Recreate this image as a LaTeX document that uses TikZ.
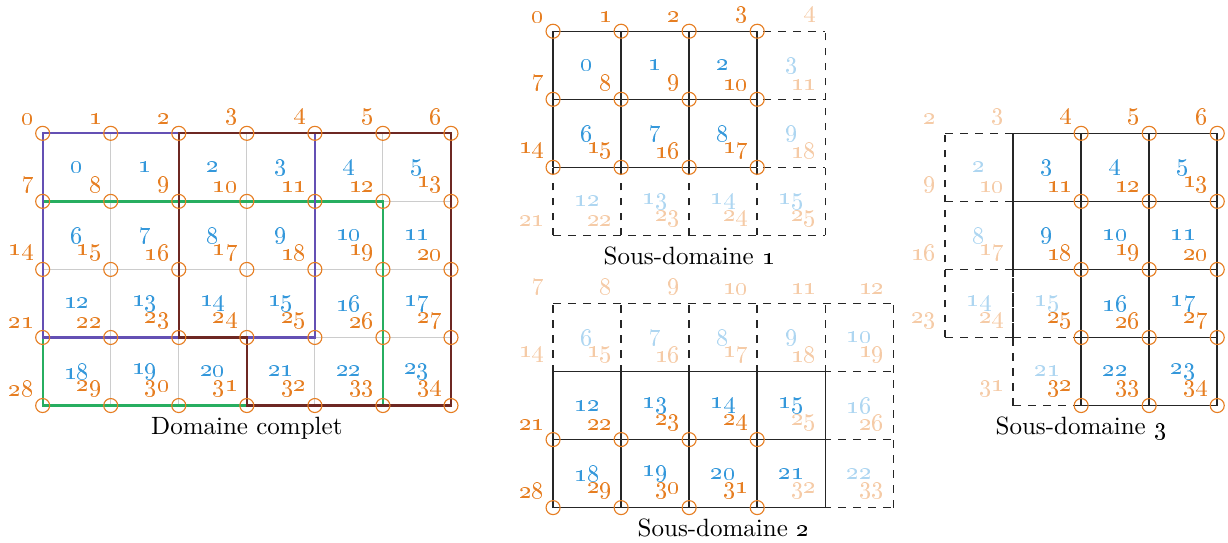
\documentclass[tikz,border=0pt]{standalone}
\usepackage{xcolor}
\usepackage{tikz}

\begin{document}
\begin{tikzpicture}[x=27.22pt,y=27.22pt,
  vnum/.style={font=\color{dorange},above left},
  vfade/.style={font=\color{dorange!40},above left},
  cnum/.style={font=\color{dblue}},
  cfade/.style={font=\color{dblue!40}},
  vring/.style={dorange,line width=0.45pt},
  meshline/.style={black!85,line width=0.6pt,step=1},
  ghostline/.style={black!85,line width=0.6pt,dashed,step=1},
  sdline/.style={line width=0.9pt}]
  \definecolor{dorange}{RGB}{230,126,34}
  \definecolor{dblue}{RGB}{52,152,219}
  \definecolor{sdgreen}{RGB}{39,174,96}
  \definecolor{sdpurple}{RGB}{100,80,180}
  \definecolor{sdbrown}{RGB}{110,40,35}
  \useasboundingbox (-0.627,1.959) rectangle (17.418,-6.02);
  % domaine complet
  \draw[black!20,line width=0.45pt,step=1] (0,0) grid (6,-4);
  \draw[sdline,sdgreen] (0,-1) rectangle (5,-4);
  \draw[sdline,sdpurple] (0,0) rectangle (4,-3);
  \draw[sdline,sdbrown] (2,0) -- (6,0) -- (6,-4) -- (3,-4) -- (3,-3) -- (2,-3) -- cycle;
  \foreach \j in {0,...,4}
    \foreach \i in {0,...,6} {
      \pgfmathtruncatemacro{\v}{7*\j+\i}
      \draw[vring] (\i,-\j) circle (2.8pt);
      \node[vnum] (d-v\v) at (\i,-\j) {\oldstylenums{\v}};
    }
  \foreach \j in {0,...,3}
    \foreach \i in {0,...,5} {
      \pgfmathtruncatemacro{\c}{6*\j+\i}
      \node[cnum] (d-c\c) at (\i+0.5,-\j-0.5) {\oldstylenums{\c}};
    }
  \node[below,yshift=-1pt] (d-cap) at (3,-4) {Domaine complet};
  % sous-domaine 1
  \begin{scope}[shift={(7.5,1.5)}]
    \draw[ghostline] (0,0) grid (4,-3);
    \draw[meshline] (0,0) grid (3,-2);
    \foreach \j in {0,1,2}
      \foreach \i in {0,...,3} {
        \pgfmathtruncatemacro{\v}{7*\j+\i}
        \draw[vring] (\i,-\j) circle (2.8pt);
        \node[vnum] (s1-v\v) at (\i,-\j) {\oldstylenums{\v}};
      }
    \foreach \i/\j in {4/0,4/1,4/2,0/3,1/3,2/3,3/3,4/3} {
      \pgfmathtruncatemacro{\v}{7*\j+\i}
      \node[vfade] (s1-v\v) at (\i,-\j) {\oldstylenums{\v}};
    }
    \foreach \j in {0,1}
      \foreach \i in {0,1,2} {
        \pgfmathtruncatemacro{\c}{6*\j+\i}
        \node[cnum] (s1-c\c) at (\i+0.5,-\j-0.5) {\oldstylenums{\c}};
      }
    \foreach \i/\j in {3/0,3/1,0/2,1/2,2/2,3/2} {
      \pgfmathtruncatemacro{\c}{6*\j+\i}
      \node[cfade] (s1-c\c) at (\i+0.5,-\j-0.5) {\oldstylenums{\c}};
    }
    \node[below,yshift=-1pt] (s1-cap) at (2,-3) {Sous-domaine \oldstylenums{1}};
  \end{scope}
  % sous-domaine 2
  \begin{scope}[shift={(7.5,-1.5)}]
    \draw[ghostline] (0,-1) grid (5,-4);
    \draw[meshline] (0,-2) grid (4,-4);
    \foreach \j in {3,4}
      \foreach \i in {0,...,3} {
        \pgfmathtruncatemacro{\v}{7*\j+\i}
        \draw[vring] (\i,-\j) circle (2.8pt);
        \node[vnum] (s2-v\v) at (\i,-\j) {\oldstylenums{\v}};
      }
    \foreach \i/\j in {0/1,1/1,2/1,3/1,4/1,5/1,0/2,1/2,2/2,3/2,4/2,5/2,4/3,5/3,4/4,5/4} {
      \pgfmathtruncatemacro{\v}{7*\j+\i}
      \node[vfade] (s2-v\v) at (\i,-\j) {\oldstylenums{\v}};
    }
    \foreach \j in {2,3}
      \foreach \i in {0,...,3} {
        \pgfmathtruncatemacro{\c}{6*\j+\i}
        \node[cnum] (s2-c\c) at (\i+0.5,-\j-0.5) {\oldstylenums{\c}};
      }
    \foreach \i/\j in {0/1,1/1,2/1,3/1,4/1,4/2,4/3} {
      \pgfmathtruncatemacro{\c}{6*\j+\i}
      \node[cfade] (s2-c\c) at (\i+0.5,-\j-0.5) {\oldstylenums{\c}};
    }
    \node[below,yshift=-1pt] (s2-cap) at (2.5,-4) {Sous-domaine \oldstylenums{2}};
  \end{scope}
  % sous-domaine 3
  \begin{scope}[shift={(11.26,0)}]
    \draw[ghostline] (2,0) grid (3,-3);
    \draw[ghostline] (3,-2) grid (4,-4);
    \draw[meshline] (3,0) grid (6,-2);
    \draw[meshline] (4,-2) grid (6,-4);
    \foreach \j in {0,...,4}
      \foreach \i in {4,5,6} {
        \pgfmathtruncatemacro{\v}{7*\j+\i}
        \draw[vring] (\i,-\j) circle (2.8pt);
        \node[vnum] (s3-v\v) at (\i,-\j) {\oldstylenums{\v}};
      }
    \foreach \i/\j in {2/0,3/0,2/1,3/1,2/2,3/2,2/3,3/3,3/4} {
      \pgfmathtruncatemacro{\v}{7*\j+\i}
      \node[vfade] (s3-v\v) at (\i,-\j) {\oldstylenums{\v}};
    }
    \foreach \i/\j in {3/0,4/0,5/0,3/1,4/1,5/1,4/2,5/2,4/3,5/3} {
      \pgfmathtruncatemacro{\c}{6*\j+\i}
      \node[cnum] (s3-c\c) at (\i+0.5,-\j-0.5) {\oldstylenums{\c}};
    }
    \foreach \i/\j in {2/0,2/1,2/2,3/2,3/3} {
      \pgfmathtruncatemacro{\c}{6*\j+\i}
      \node[cfade] (s3-c\c) at (\i+0.5,-\j-0.5) {\oldstylenums{\c}};
    }
    \node[below,yshift=-1pt] (s3-cap) at (4,-4) {Sous-domaine \oldstylenums{3}};
  \end{scope}
\end{tikzpicture}
\end{document}
